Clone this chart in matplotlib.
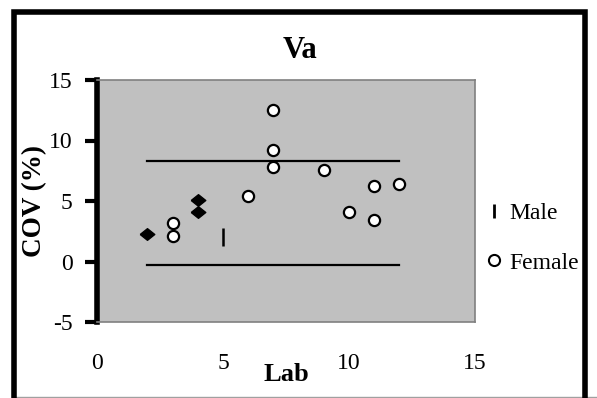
import matplotlib.pyplot as plt
from matplotlib.patches import Rectangle
from matplotlib.lines import Line2D

# data
diamond_lab = [2, 4, 4]
diamond_cov = [2.3, 4.1, 5.1]

male_lab = [5]
male_cov = [2.0]

female_lab = [3, 3, 6, 7, 7, 7, 9, 10, 11, 11, 12]
female_cov = [3.2, 2.1, 5.4, 12.5, 9.2, 7.8, 7.6, 4.1, 6.2, 3.4, 6.4]

limit_lab = [2, 12]
upper_limit = 8.3
lower_limit = -0.3

plt.rcParams["font.family"] = "Liberation Serif"
plt.rcParams["axes.unicode_minus"] = False

fig = plt.figure(figsize=(5.97, 3.98), dpi=100)
ax = fig.add_axes([97 / 597, 1 - 322 / 398, 378 / 597, 242 / 398])

ax.set_facecolor("#c0c0c0")

ax.plot(limit_lab, [upper_limit, upper_limit], color="black", lw=1.6, zorder=2)
ax.plot(limit_lab, [lower_limit, lower_limit], color="black", lw=1.6, zorder=2)

diamond = [(-1, 0), (0, 0.8), (1, 0), (0, -0.8), (-1, 0)]
ax.scatter(diamond_lab, diamond_cov, marker=diamond, s=110, color="black", zorder=3)
ax.scatter(male_lab, male_cov, marker="|", s=150, color="black", linewidths=1.8, zorder=3)
ax.scatter(female_lab, female_cov, marker="o", s=65, facecolor="white",
           edgecolor="black", linewidths=1.6, zorder=3)

ax.set_xlim(0, 15)
ax.set_ylim(-5, 15)
ax.set_xticks([0, 5, 10, 15])
ax.set_yticks([-5, 0, 5, 10, 15])

ax.tick_params(axis="x", length=0, pad=22, labelsize=17)
ax.tick_params(axis="y", length=9, width=3, pad=8.5, labelsize=17)
for t in ax.yaxis.get_ticklines():
    t.set_solid_capstyle("round")

ax.spines["left"].set_linewidth(4)
ax.spines["left"].set_color("black")
for side in ["top", "right", "bottom"]:
    ax.spines[side].set_color("#808080")
    ax.spines[side].set_linewidth(1.2)

ax.set_ylabel("COV (%)", fontsize=19.5, fontweight="bold")
ax.yaxis.set_label_coords(-0.132, 0.5)
ax.set_xlabel("Lab", fontsize=19, fontweight="bold")
ax.xaxis.set_label_coords(0.5, -0.168)
fig.text(300 / 597, 1 - 50 / 398, "Va", fontsize=22, fontweight="bold",
         ha="center", va="center")

handles = [
    Line2D([], [], marker="|", color="black", ls="none", markersize=10, mew=2),
    Line2D([], [], marker="o", color="black", markerfacecolor="white",
           ls="none", markersize=8, mew=1.5),
]
fig.legend(handles, ["Male", "Female"], loc="center left",
           bbox_to_anchor=(464 / 597, 1 - 238 / 398), frameon=False,
           fontsize=17, handlelength=0.7, handletextpad=0.3, labelspacing=1.2)

# outer border and bottom rule
fig.add_artist(Rectangle((14 / 597, -0.1), 571 / 597, 1.1 - 12.5 / 398,
                         transform=fig.transFigure, fill=False,
                         edgecolor="black", lw=4, zorder=10))
fig.add_artist(Line2D([14 / 597, 1], [1.5 / 398, 1.5 / 398],
                      transform=fig.transFigure, color="#a0a0a0", lw=1, zorder=9))

fig.savefig("out.png", dpi=100)
